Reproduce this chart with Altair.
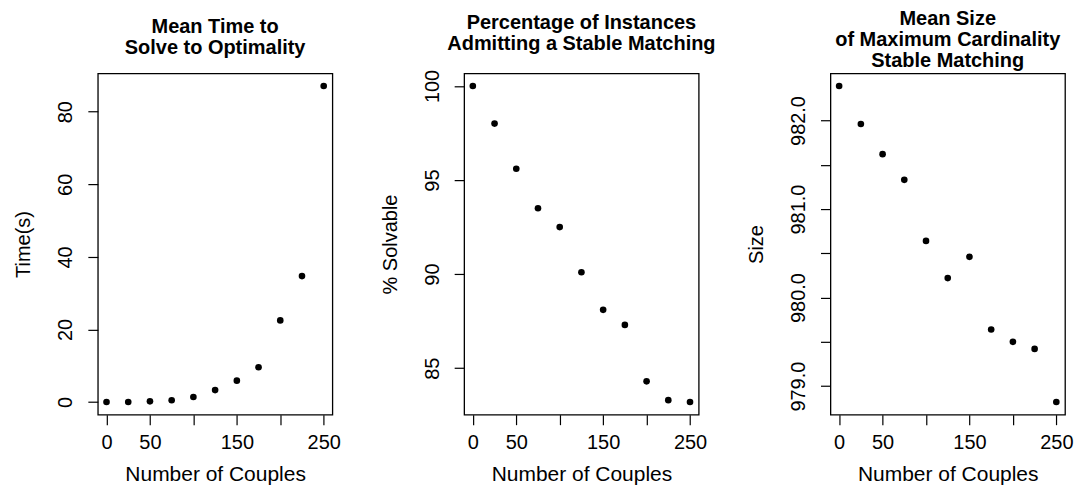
import altair as alt
import pandas as pd

# ---- data ----
couples = [0, 25, 50, 75, 100, 125, 150, 175, 200, 225, 250]
time_s = [0.0, 0.0, 0.2, 0.5, 1.4, 3.3, 5.9, 9.6, 22.5, 34.7, 87.1]
pct_solvable = [100.0, 98.0, 95.6, 93.5, 92.5, 90.1, 88.1, 87.3, 84.3, 83.3, 83.2]
size_vals = [982.39, 981.96, 981.62, 981.33, 980.64, 980.22, 980.46,
             979.64, 979.50, 979.42, 978.82]

x_ticks = [0, 50, 100, 150, 200, 250]
y1_ticks = [0, 20, 40, 60, 80]
y2_ticks = [85, 90, 95, 100]
y3_ticks = [979.0, 979.5, 980.0, 980.5, 981.0, 981.5, 982.0]

titles = [
    ["Mean Time to", "Solve to Optimality"],
    ["Percentage of Instances", "Admitting a Stable Matching"],
    ["Mean Size", "of Maximum Cardinality", "Stable Matching"],
]
y_titles = ["Time(s)", "% Solvable", "Size"]
x_title = "Number of Couples"

FONT = "Liberation Sans"


def rdomain(vals, frac=0.04):
    lo, hi = min(vals), max(vals)
    r = hi - lo
    return [lo - frac * r, hi + frac * r]


def panel(vals, title, ytitle, yticks, yfmt, ylabel_expr, title_offset, line_h):
    df = pd.DataFrame({"couples": couples, "v": vals})
    x = alt.X(
        "couples:Q",
        scale=alt.Scale(domain=rdomain(couples), nice=False, zero=False),
        axis=alt.Axis(
            values=x_ticks,
            title=x_title,
            labelExpr="datum.value == 100 || datum.value == 200 ? '' : datum.label",
            labelPadding=8,
            titlePadding=11,
            labelFontSize=20,
            titleFontSize=21,
        ),
    )
    yaxis_kwargs = dict(
        values=yticks,
        title=ytitle,
        labelAngle=270,
        labelAlign="center",
        labelBaseline="bottom",
        labelPadding=12,
        titlePadding=22,
        labelFontSize=20,
        titleFontSize=20,
    )
    if yfmt:
        yaxis_kwargs["format"] = yfmt
    if ylabel_expr:
        yaxis_kwargs["labelExpr"] = ylabel_expr
    y = alt.Y(
        "v:Q",
        scale=alt.Scale(domain=rdomain(vals), nice=False, zero=False),
        axis=alt.Axis(**yaxis_kwargs),
    )
    return (
        alt.Chart(df)
        .mark_circle(size=44, color="black", opacity=1)
        .encode(x=x, y=y)
        .properties(
            width=235,
            height=342,
            title=alt.TitleParams(
                text=title,
                fontSize=20,
                fontWeight="bold",
                font=FONT,
                color="black",
                anchor="middle",
                frame="group",
                lineHeight=line_h,
                offset=title_offset,
            ),
        )
    )


p1 = panel(time_s, titles[0], y_titles[0], y1_ticks, None, None, 15, 21.5)
p2 = panel(pct_solvable, titles[1], y_titles[1], y2_ticks, None, None, 15, 21.5)
p3 = panel(size_vals, titles[2], y_titles[2], y3_ticks, ".1f",
           "datum.value % 1 != 0 ? '' : datum.label", 2, 21)

chart = (
    alt.hconcat(p1, p2, p3, spacing=132, bounds="flush")
    .properties(padding={"left": 5, "top": 0, "right": 0, "bottom": 0},
                background="white")
    .configure_view(stroke="black", strokeWidth=1.3, fill="white")
    .configure_axis(
        grid=False,
        domain=False,
        ticks=True,
        tickSize=10,
        tickColor="black",
        tickWidth=1.2,
        labelFont=FONT,
        labelColor="black",
        titleFont=FONT,
        titleFontWeight="normal",
        titleColor="black",
        labelFlush=False,
        labelOverlap=False,
        labelBound=False,
    )
)

chart.save("out.html", embed_options={"renderer": "svg", "actions": False})
